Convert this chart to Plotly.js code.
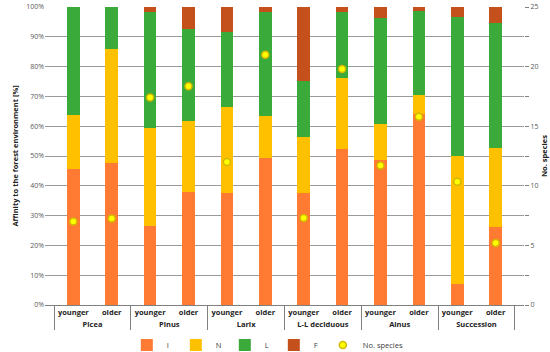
<!DOCTYPE html>
<html>
<head>
<meta charset="utf-8">
<script src="https://cdn.plot.ly/plotly-3.0.1.min.js"></script>
<style>html,body{margin:0;padding:0;background:#fff;}#chart{width:550px;height:352px;}</style>
</head>
<body>
<div id="chart"></div>
<script>
// Data
var groups = ["Picea","Picea","Pinus","Pinus","Larix","Larix","L-L deciduous","L-L deciduous","Alnus","Alnus","Succession","Succession"];
var ages = ["younger","older","younger","older","younger","older","younger","older","younger","older","younger","older"];
var valI = [45.5, 47.5, 26.6, 38.0, 37.5, 49.2, 37.5, 52.5, 48.5, 64.0, 7.0, 26.3];
var valN = [18.1, 38.3, 32.8, 23.8, 29.0, 14.3, 18.8, 23.8, 12.1, 6.5, 43.0, 26.3];
var valL = [36.4, 14.2, 39.0, 30.9, 25.1, 34.9, 18.9, 22.1, 35.6, 28.2, 46.5, 42.1];
var valF = [0, 0, 1.6, 7.3, 8.4, 1.6, 24.8, 1.6, 3.8, 1.3, 3.5, 5.3];
var noSpecies = [7.0, 7.25, 17.4, 18.35, 12.0, 21.0, 7.3, 19.8, 11.7, 15.8, 10.35, 5.2];

var x = [groups, ages];
function bar(name, vals, color) {
  return {type: "bar", name: name, x: x, y: vals, marker: {color: color}, hoverinfo: "y+name", legend: "legend"};
}
var traces = [
  bar("I", valI, "#ff7a33"),
  bar("N", valN, "#ffc000"),
  bar("L", valL, "#3aaa3a"),
  bar("F", valF, "#c4501c"),
  {type: "scatter", mode: "markers", name: "No. species", x: x, y: noSpecies, yaxis: "y2", legend: "legend2",
   marker: {symbol: "circle", size: 7, color: "#ffff00", line: {color: "#d4b800", width: 1.5}}}
];

var font = "Open Sans, Liberation Sans, sans-serif";
var legendFont = {size: 7.5, color: "#404040"};
var layout = {
  width: 550, height: 352,
  margin: {l: 45, r: 26, t: 7, b: 47, autoexpand: false},
  barmode: "stack",
  bargap: 0.67,
  plot_bgcolor: "#fff", paper_bgcolor: "#fff",
  font: {family: font, size: 8, color: "#404040"},
  showlegend: true,
  legend: {orientation: "h", traceorder: "normal", x: 0.58, xanchor: "right", y: -0.134, yanchor: "middle",
           font: legendFont, entrywidth: 4, entrywidthmode: "pixels",
           tracegroupgap: 0, bgcolor: "rgba(0,0,0,0)"},
  legend2: {orientation: "h", x: 0.58, xanchor: "left", y: -0.134, yanchor: "middle",
           font: legendFont, bgcolor: "rgba(0,0,0,0)"},
  xaxis: {type: "multicategory", showline: true, linecolor: "#808080", linewidth: 1, automargin: false,
          tickangle: 0, showdividers: true, dividercolor: "#808080", dividerwidth: 1,
          tickfont: {size: 7.5, color: "#222", weight: "bold"}, ticks: "", showgrid: false},
  yaxis: {range: [0, 100], dtick: 10, ticksuffix: "%", showgrid: true, gridcolor: "#9a9a9a", gridwidth: 1,
          zeroline: false, tickfont: {size: 7, color: "#595959"}, ticks: "", automargin: false,
          title: {text: "Affinity to the forest environment [%]", font: {size: 7.5, color: "#222", weight: "bold"}, standoff: 6}},
  yaxis2: {overlaying: "y", side: "right", range: [0, 25], dtick: 5, showgrid: false, zeroline: false,
           ticks: "outside", ticklen: 4, tickcolor: "#808080", automargin: false,
           minor: {dtick: 2.5, ticks: "outside", ticklen: 4, tickcolor: "#808080"},
           tickfont: {size: 7, color: "#595959"},
           title: {text: "No. species", font: {size: 7.5, color: "#222", weight: "bold"}, standoff: 4}}
};
Plotly.newPlot("chart", traces, layout, {displayModeBar: false, staticPlot: true});
</script>
</body>
</html>
